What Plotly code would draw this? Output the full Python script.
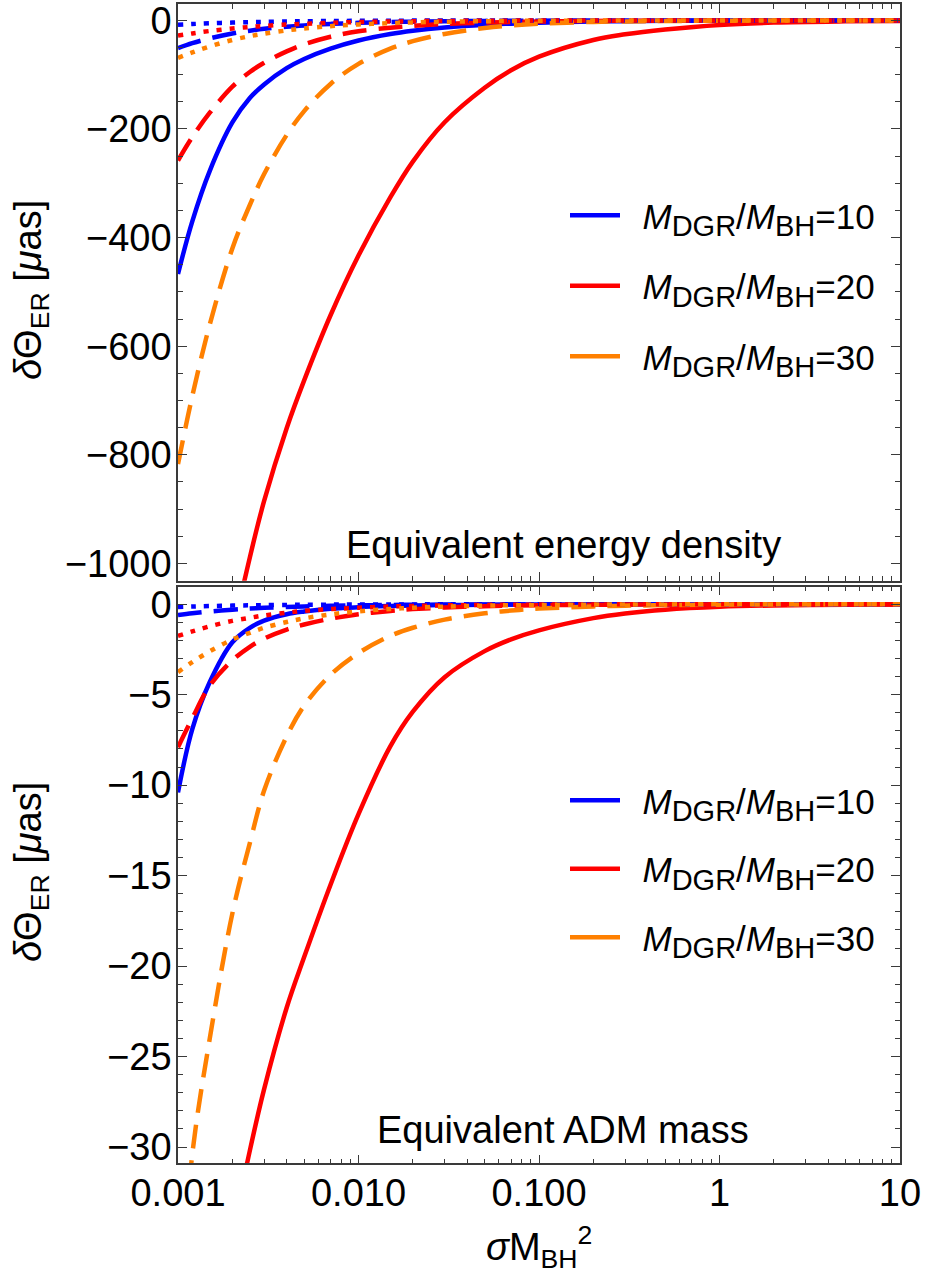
import plotly.graph_objects as go

# sigma * M_BH^2 sample points
x_vals = [0.001, 0.0012, 0.0015, 0.002, 0.0025, 0.003, 0.004, 0.005, 0.007, 0.01,
          0.015, 0.02, 0.03, 0.05, 0.07, 0.1, 0.2, 0.3, 0.5, 1, 2, 5, 10]

# ---- Top panel: Equivalent energy density (micro-arcsec) ----
top_blue_solid = [-467, -370, -277, -188, -143, -118, -88, -71, -52, -37,
                  -25, -19, -13, -8, -6, -4.3, -2.1, -1.4, -0.8, -0.4, -0.2, -0.08, -0.04]
top_blue_dashed = [-51, -42, -33, -24, -19, -15.5, -11.5, -9.2, -6.5, -4.5,
                   -3, -2.3, -1.5, -0.9, -0.65, -0.45, -0.22, -0.15, -0.09, -0.045, -0.02, -0.01, 0]
top_blue_dotted = [-8, -6.7, -5.3, -4, -3.2, -2.7, -2, -1.6, -1.15, -0.8,
                   -0.53, -0.4, -0.27, -0.16, -0.11, -0.08, -0.04, -0.027, -0.016, -0.008, -0.004, -0.002, -0.001]
top_red_solid = [-1728, -1546, -1351, -1134, -989, -885, -751, -663, -543, -433,
                 -326, -260, -187.5, -124, -91.8, -66.8, -36, -25.7, -16.8, -8.3, -4.06, -1.73, -0.9]
top_red_dashed = [-258, -215, -170, -122, -95, -78, -57, -44, -30, -20,
                  -13.5, -10, -6.6, -4, -2.9, -2, -1, -0.67, -0.4, -0.2, -0.1, -0.04, -0.02]
top_red_dotted = [-28, -24, -19.5, -15, -12.2, -10.2, -7.7, -6.2, -4.4, -3.1,
                  -2.1, -1.55, -1.03, -0.62, -0.44, -0.31, -0.155, -0.1, -0.062, -0.031, -0.015, -0.006, -0.003]
top_orange_dashed = [-817, -692, -560, -420, -340, -283, -211, -167, -117, -80,
                     -52, -38.3, -24.9, -14, -9.4, -6.1, -2.8, -1.84, -1.1, -0.57, -0.3, -0.13, -0.07]
top_orange_dotted = [-69, -59, -48, -36, -29, -24.5, -18.5, -14.8, -10.6, -7.4,
                     -5, -3.7, -2.5, -1.5, -1.05, -0.74, -0.37, -0.25, -0.15, -0.074, -0.037, -0.015, -0.007]

# ---- Bottom panel: Equivalent ADM mass (micro-arcsec) ----
bot_blue_solid = [-10.4, -6.9, -4.3, -2.1, -1.3, -0.9, -0.55, -0.4, -0.25, -0.16,
                  -0.1, -0.07, -0.045, -0.026, -0.018, -0.012, -0.006, -0.004, -0.0024, -0.0012, -0.0006, -0.0002, -0.0001]
bot_blue_dashed = [-0.6, -0.5, -0.4, -0.3, -0.24, -0.2, -0.15, -0.12, -0.086, -0.06,
                   -0.04, -0.03, -0.02, -0.012, -0.0086, -0.006, -0.003, -0.002, -0.0012, -0.0006, -0.0003, -0.0001, 0]
bot_blue_dotted = [-0.15, -0.125, -0.1, -0.075, -0.06, -0.05, -0.037, -0.03, -0.021, -0.015,
                   -0.01, -0.0075, -0.005, -0.003, -0.0021, -0.0015, -0.0008, -0.0005, -0.0003, -0.00015, -0.00008, -0.00003, -0.00002]
bot_red_solid = [-54.8, -48.7, -42, -34.9, -30.2, -26.8, -22.3, -19.5, -15.5, -11.6,
                 -7.86, -5.94, -4.03, -2.59, -1.94, -1.44, -0.766, -0.51, -0.3, -0.141, -0.066, -0.025, -0.012]
bot_red_dashed = [-7.9, -6.3, -4.5, -3.1, -2.35, -1.9, -1.4, -1.12, -0.8, -0.55,
                  -0.37, -0.27, -0.18, -0.11, -0.078, -0.055, -0.027, -0.018, -0.011, -0.0055, -0.0027, -0.0011, -0.0005]
bot_red_dotted = [-1.75, -1.5, -1.22, -0.92, -0.75, -0.62, -0.47, -0.37, -0.27, -0.19,
                  -0.125, -0.094, -0.063, -0.038, -0.027, -0.019, -0.0094, -0.0063, -0.0038, -0.0019, -0.0009, -0.0004, -0.0002]
bot_orange_dashed = [-40, -30.4, -24, -17.1, -13.2, -10.3, -7.3, -5.6, -3.9, -2.7,
                     -1.75, -1.3, -0.85, -0.5, -0.35, -0.24, -0.12, -0.08, -0.048, -0.024, -0.012, -0.005, -0.0024]
bot_orange_dotted = [-3.75, -3.2, -2.6, -1.95, -1.58, -1.3, -0.98, -0.78, -0.56, -0.39,
                     -0.26, -0.195, -0.13, -0.078, -0.056, -0.039, -0.0195, -0.013, -0.0078, -0.0039, -0.002, -0.0008, -0.0004]

ratios = ["10", "20", "30"]

x_tickvals = [0.001, 0.01, 0.1, 1, 10]
x_ticktext = ["0.001", "0.010", "0.100", "1", "10"]
top_ytickvals = [0, -200, -400, -600, -800, -1000]
bot_ytickvals = [0, -5, -10, -15, -20, -25, -30]

BLUE = "#0000FF"
RED = "#FF0000"
ORANGE = "#FF8000"
LW = 4.5
DASH = "24px,12px"
DOT = "5px,8px"
FONT = "Liberation Sans, Arial, sans-serif"
FRAME = "#3a3a3a"
FS = 38

def leg_label(r):
    sub = '<span style="font-size:29px">%s</span>'
    return ("\u2002<i>M</i><sub>" + sub % "DGR" + "</sub>/<i>M</i><sub>" + sub % "BH" + "</sub>=" + r)

fig = go.Figure()

def add(y, color, dash, row):
    xa = "x" if row == 1 else "x2"
    ya = "y" if row == 1 else "y2"
    fig.add_trace(go.Scatter(x=x_vals, y=y, mode="lines", xaxis=xa, yaxis=ya,
                             line=dict(color=color, width=LW, dash=dash, shape="spline", smoothing=1.0),
                             showlegend=False, hoverinfo="skip"))

# top panel
add(top_blue_solid, BLUE, "solid", 1)
add(top_red_solid, RED, "solid", 1)
add(top_blue_dashed, BLUE, DASH, 1)
add(top_red_dashed, RED, DASH, 1)
add(top_orange_dashed, ORANGE, DASH, 1)
add(top_blue_dotted, BLUE, DOT, 1)
add(top_red_dotted, RED, DOT, 1)
add(top_orange_dotted, ORANGE, DOT, 1)
# bottom panel
add(bot_blue_solid, BLUE, "solid", 2)
add(bot_red_solid, RED, "solid", 2)
add(bot_blue_dashed, BLUE, DASH, 2)
add(bot_red_dashed, RED, DASH, 2)
add(bot_orange_dashed, ORANGE, DASH, 2)
add(bot_blue_dotted, BLUE, DOT, 2)
add(bot_red_dotted, RED, DOT, 2)
add(bot_orange_dotted, ORANGE, DOT, 2)

# legend entries
for leg, xa, ya in [("legend", "x", "y"), ("legend2", "x2", "y2")]:
    for r, col in zip(ratios, [BLUE, RED, ORANGE]):
        fig.add_trace(go.Scatter(x=[None], y=[None], mode="lines", xaxis=xa, yaxis=ya,
                                 line=dict(color=col, width=LW), name=leg_label(r),
                                 legend=leg, legendgroup=leg + r, showlegend=True))

W, H = 925, 1282
x_dom = [178 / W, 900 / W]
top_dom = [1 - 580.7 / H, 1 - 4 / H]
bot_dom = [1 - 1163.3 / H, 1 - 586.7 / H]

minor_x = [m * 10 ** e for e in range(-3, 1) for m in range(2, 10)]

common_x = dict(type="log", range=[-3, 1], showgrid=False, zeroline=False, automargin=False,
                showline=True, linecolor=FRAME, linewidth=1.5, mirror="allticks",
                ticks="inside", ticklen=9, tickwidth=1.2, tickcolor=FRAME,
                tickvals=x_tickvals, ticktext=x_ticktext, ticklabelstandoff=-5,
                ticklabeloverflow="allow",
                minor=dict(ticks="inside", ticklen=5, tickwidth=1, tickcolor=FRAME, tickvals=minor_x),
                tickfont=dict(family=FONT, size=FS, color="black"), domain=x_dom)
common_y = dict(showgrid=False, zeroline=False, showline=True, linecolor=FRAME, linewidth=1.5,
                mirror="allticks", ticks="inside", ticklen=9, tickwidth=1.2, tickcolor=FRAME,
                automargin=False, ticklabelstandoff=-3, ticklabeloverflow="allow",
                tickfont=dict(family=FONT, size=FS, color="black"))

ytitle = "<i>δ</i>Θ<sub>ER</sub> [<i>μ</i>as]"

fig.update_layout(
    width=W, height=H, margin=dict(l=0, r=0, t=0, b=0),
    paper_bgcolor="white", plot_bgcolor="white",
    font=dict(family=FONT, color="black"),
    xaxis=dict(**common_x, anchor="y", showticklabels=False),
    xaxis2=dict(**common_x, anchor="y2", showticklabels=True),
    yaxis=dict(**common_y, domain=top_dom, anchor="x", range=[-1031.9, 30.2], tickvals=top_ytickvals,
               minor=dict(ticks="inside", ticklen=5, tickwidth=1, tickcolor=FRAME, dtick=50, tick0=0)),
    yaxis2=dict(**common_y, domain=bot_dom, anchor="x2", range=[-30.9, 0.97], tickvals=bot_ytickvals,
                minor=dict(ticks="inside", ticklen=5, tickwidth=1, tickcolor=FRAME, dtick=1, tick0=0)),
    legend=dict(x=565 / W, y=1 - 186 / H, xanchor="left", yanchor="top", bgcolor="rgba(0,0,0,0)",
                font=dict(family=FONT, size=35, color="black"), tracegroupgap=22, itemwidth=50),
    legend2=dict(x=565 / W, y=1 - 771 / H, xanchor="left", yanchor="top", bgcolor="rgba(0,0,0,0)",
                 font=dict(family=FONT, size=35, color="black"), tracegroupgap=20, itemwidth=50),
    annotations=[
        dict(text="Equivalent energy density", x=563 / W, y=1 - 545 / H, xref="paper", yref="paper",
             showarrow=False, font=dict(family=FONT, size=FS, color="black"), xanchor="center", yanchor="middle"),
        dict(text="Equivalent ADM mass", x=563 / W, y=1 - 1130 / H, xref="paper", yref="paper",
             showarrow=False, font=dict(family=FONT, size=FS, color="black"), xanchor="center", yanchor="middle"),
        dict(text=ytitle, x=31 / W, y=1 - 290 / H, xref="paper", yref="paper", textangle=-90,
             showarrow=False, font=dict(family=FONT, size=FS, color="black"), xanchor="center", yanchor="middle"),
        dict(text=ytitle, x=31 / W, y=1 - 872 / H, xref="paper", yref="paper", textangle=-90,
             showarrow=False, font=dict(family=FONT, size=FS, color="black"), xanchor="center", yanchor="middle"),
        dict(text="<i>σ</i>M<sub>BH</sub><sup>2</sup>", x=539 / W, y=1 - 1247 / H, xref="paper", yref="paper",
             showarrow=False, font=dict(family=FONT, size=FS, color="black"), xanchor="center", yanchor="middle"),
    ],
)

fig.write_html("out.html", config={"displayModeBar": False},
               post_script="document.body.style.margin='0px';")
